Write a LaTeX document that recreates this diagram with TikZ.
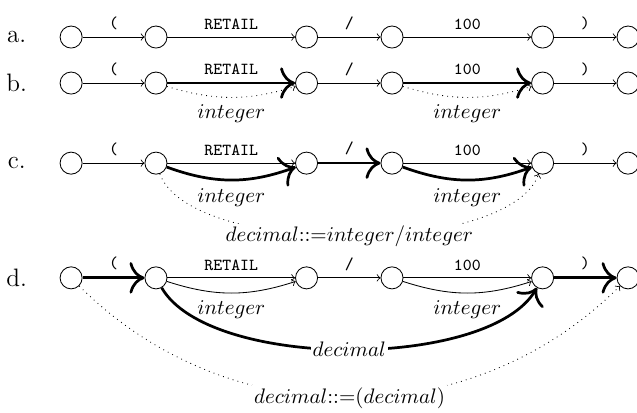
\documentclass[tikz,border=0pt]{standalone}
\usetikzlibrary{arrows.meta}
\begin{document}
\begin{tikzpicture}[>=to,
  state/.style={draw, circle, minimum size=10.5pt, inner sep=0pt},
  tok/.style={above, font=\ttfamily\footnotesize},
  cat/.style={below},
  heavy/.style={-{To[scale=1.6]}, line width=1.3pt},
  link/.style={->, dotted},
  onpath/.style={fill=white, inner sep=1pt},
  rowlab/.style={font=\large}]
\useasboundingbox (0,0) rectangle (10.66,-6.91);

% a. plain token chain
\node[rowlab] (la) at (0.28,-0.62) {a.};
\node[state] (a1) at (1.19,-0.62) {};
\node[state] (a2) at (2.61,-0.62) {};
\node[state] (a3) at (5.13,-0.62) {};
\node[state] (a4) at (6.56,-0.62) {};
\node[state] (a5) at (9.08,-0.62) {};
\node[state] (a6) at (10.51,-0.62) {};
\draw[->] (a1) -- node[tok] {(} (a2);
\draw[->] (a2) -- node[tok] {RETAIL} (a3);
\draw[->] (a3) -- node[tok] {/} (a4);
\draw[->] (a4) -- node[tok] {100} (a5);
\draw[->] (a5) -- node[tok] {)} (a6);

% b. integers found
\node[rowlab] (lb) at (0.28,-1.39) {b.};
\node[state] (b1) at (1.19,-1.39) {};
\node[state] (b2) at (2.61,-1.39) {};
\node[state] (b3) at (5.13,-1.39) {};
\node[state] (b4) at (6.56,-1.39) {};
\node[state] (b5) at (9.08,-1.39) {};
\node[state] (b6) at (10.51,-1.39) {};
\draw[->] (b1) -- node[tok] {(} (b2);
\draw[heavy] (b2) -- node[tok] {RETAIL} (b3);
\draw[->] (b3) -- node[tok] {/} (b4);
\draw[heavy] (b4) -- node[tok] {100} (b5);
\draw[->] (b5) -- node[tok] {)} (b6);
\draw[link] (b2) to[bend right=17] node[cat] {$integer$} (b3);
\draw[link] (b4) to[bend right=17] node[cat] {$integer$} (b5);

% c. integer / integer
\node[rowlab] (lc) at (0.28,-2.73) {c.};
\node[state] (c1) at (1.19,-2.73) {};
\node[state] (c2) at (2.61,-2.73) {};
\node[state] (c3) at (5.13,-2.73) {};
\node[state] (c4) at (6.56,-2.73) {};
\node[state] (c5) at (9.08,-2.73) {};
\node[state] (c6) at (10.51,-2.73) {};
\draw[->] (c1) -- node[tok] {(} (c2);
\draw[->] (c2) -- node[tok] {RETAIL} (c3);
\draw[heavy] (c3) -- node[tok] {/} (c4);
\draw[->] (c4) -- node[tok] {100} (c5);
\draw[->] (c5) -- node[tok] {)} (c6);
\draw[heavy] (c2) to[bend right=20] node[cat] {$integer$} (c3);
\draw[heavy] (c4) to[bend right=20] node[cat] {$integer$} (c5);
\draw[link] (c2) to[out=-70, in=-110, looseness=0.6] node[onpath] {$decimal{::=}integer/integer$} (c5);

% d. ( decimal )
\node[rowlab] (ld) at (0.28,-4.65) {d.};
\node[state] (d1) at (1.19,-4.65) {};
\node[state] (d2) at (2.61,-4.65) {};
\node[state] (d3) at (5.13,-4.65) {};
\node[state] (d4) at (6.56,-4.65) {};
\node[state] (d5) at (9.08,-4.65) {};
\node[state] (d6) at (10.51,-4.65) {};
\draw[heavy] (d1) -- node[tok] {(} (d2);
\draw[->] (d2) -- node[tok] {RETAIL} (d3);
\draw[->] (d3) -- node[tok] {/} (d4);
\draw[->] (d4) -- node[tok] {100} (d5);
\draw[heavy] (d5) -- node[tok] {)} (d6);
\draw[->] (d2) to[bend right=18] node[cat] {$integer$} (d3);
\draw[->] (d4) to[bend right=18] node[cat] {$integer$} (d5);
\draw[heavy] (d2) to[out=-60, in=-120, looseness=0.65] node[onpath] {$decimal$} (d5);
\draw[link] (d1) to[bend right=45] node[onpath] {$decimal{::=}(decimal)$} (d6);
\end{tikzpicture}
\end{document}
